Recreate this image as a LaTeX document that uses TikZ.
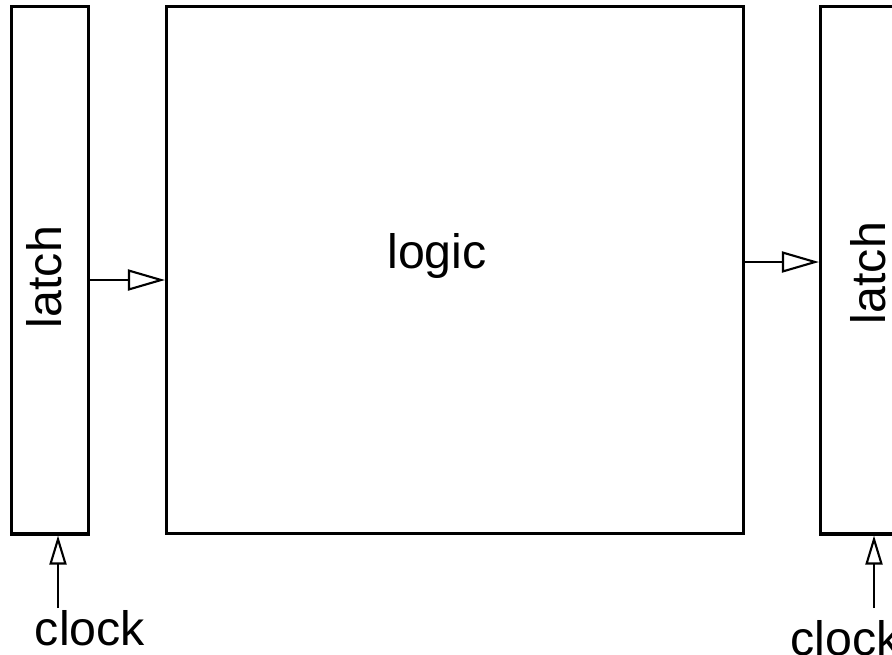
\documentclass[tikz,border=0pt]{standalone}
\usepackage{fontspec}
\setmainfont{Liberation Sans}
\usetikzlibrary{arrows.meta}
\begin{document}
\begin{tikzpicture}[x=0.02cm,y=-0.02cm,line join=miter,
	box/.style={draw,line width=1.8pt,minimum height=10.55cm,inner sep=0pt},
	lbl/.style={inner sep=0pt,anchor=base,font=\fontsize{27.5}{32}\selectfont},
	flow/.style={line width=1.2pt,-{Triangle[open,length=0.74cm,width=0.42cm]}},
	clk/.style={line width=1.2pt,-{Triangle[open,length=0.58cm,width=0.34cm]}}]
	\useasboundingbox (0,0) rectangle (892,654);
	\clip (0,0) rectangle (892,654);
	% registers and combinational block
	\node[box,minimum width=1.54cm] (latchA) at (50,270.25) {};
	\node[box,minimum width=11.54cm,minimum height=10.54cm] (logic) at (455,270) {};
	\node[box,minimum width=1.54cm] (latchB) at (859,270.25) {};
	\node[lbl] (logictext) at (437,268) {logic};
	\node[lbl,rotate=90] (latchAtext) at (61,277) {latch};
	\node[lbl,rotate=90] (latchBtext) at (885,273) {latch};
	\node[lbl] (clockA) at (90,645) {clock};
	\node[lbl,anchor=base west] (clockB) at (790,655) {clock};
	% data path
	\draw[flow] (latchA.east |- 0,280) -- (logic.west |- 0,280);
	\draw[flow] (logic.east |- 0,262) -- (latchB.west |- 0,262);
	% clock inputs
	\path
	(58,608) coordinate (clkA)
	(874,608) coordinate (clkB);
	\foreach \c/\l in {clkA/latchA, clkB/latchB} \draw[clk] (\c) -- (\c |- \l.south);
\end{tikzpicture}
\end{document}
